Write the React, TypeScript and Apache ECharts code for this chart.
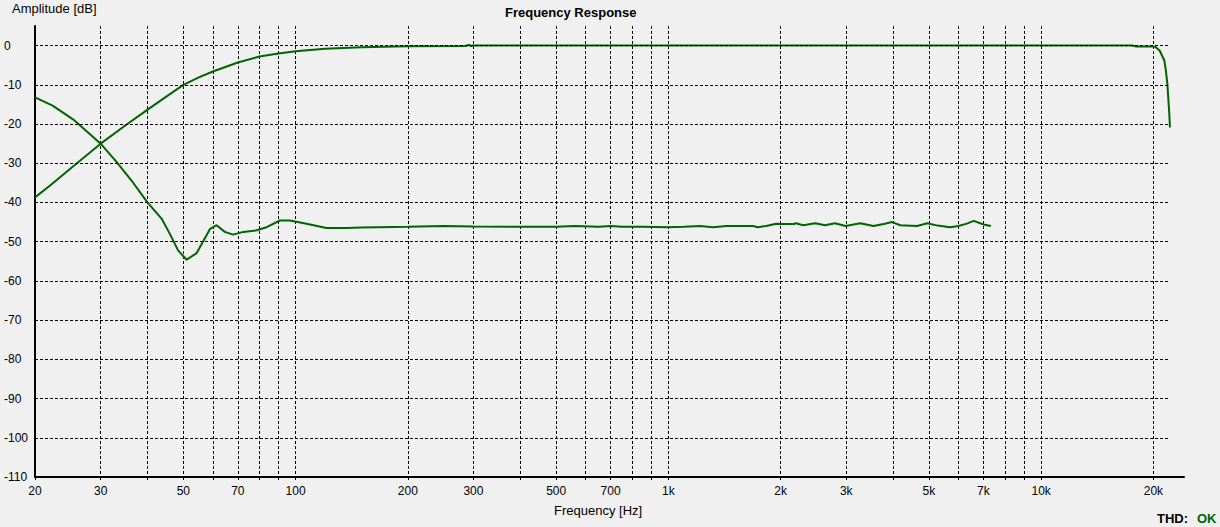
import React, { useEffect, useRef } from "react";
import * as echarts from "echarts";

// Grid / tick definitions (Hz and dB)
const gridFreqs = [20, 30, 40, 50, 60, 70, 80, 90, 100, 200, 300, 400, 500, 600, 700, 800, 900, 1000, 2000, 3000, 4000, 5000, 6000, 7000, 8000, 9000, 10000, 20000];
const labelFreqs = [20, 30, 50, 70, 100, 200, 300, 500, 700, 1000, 2000, 3000, 5000, 7000, 10000, 20000];
const dbTicks = [-110, -100, -90, -80, -70, -60, -50, -40, -30, -20, -10, 0];

// Amplitude response (green curve rising to 0 dB)
const respFreq = [20, 22, 25, 30, 35, 40, 45, 50, 55, 60, 70, 80, 90, 100, 120, 150, 200, 285, 292, 296, 300, 1000, 5000, 10000, 17500, 18000, 20000, 20300, 20800, 21400, 21600, 21800, 21900, 22060, 22150];
const respDb = [-38.7, -35.6, -31.2, -25.0, -20.3, -16.4, -13.0, -10.0, -8.1, -6.6, -4.3, -2.8, -2.0, -1.45, -0.8, -0.4, -0.15, -0.1, 0.15, -0.1, 0, 0, 0, 0, 0, -0.2, -0.2, -0.4, -1.3, -3.8, -6.4, -9.7, -12.7, -17.3, -20.9];

// THD curve
const thdFreq = [20, 22.3, 25.3, 28, 30, 33, 36.3, 40, 43.7, 46, 48.4, 51, 54.3, 59, 61.4, 64.6, 68, 72.4, 78.6, 83.6, 90.8, 96.6, 107, 121, 137, 150, 200, 250, 300, 400, 500, 560, 650, 700, 750, 850, 1000, 1100, 1216, 1316, 1432, 1686, 1738, 1830, 1946, 2000, 2166, 2200, 2298, 2478, 2632, 2796, 2990, 3270, 3550, 3810, 3976, 4190, 4646, 4948, 5274, 5698, 6000, 6320, 6590, 7010, 7330];
const thdDb = [-13.2, -15.3, -18.8, -22.5, -25.0, -29.5, -34.4, -39.9, -44.1, -48.0, -52.2, -54.6, -52.9, -46.7, -45.8, -47.5, -48.2, -47.5, -47.1, -46.3, -44.6, -44.6, -45.4, -46.5, -46.5, -46.4, -46.2, -46.0, -46.1, -46.2, -46.2, -46.0, -46.2, -46.0, -46.2, -46.2, -46.3, -46.2, -46.0, -46.3, -46.0, -46.0, -46.3, -46.0, -45.4, -45.5, -45.5, -45.3, -45.8, -45.3, -45.8, -45.3, -46.0, -45.3, -46.0, -45.4, -45.0, -45.8, -46.0, -45.3, -45.9, -46.3, -46.0, -45.4, -44.7, -45.6, -46.0];

const X_MIN_HZ = 20;
const X_MAX_HZ = 24160;
const GRID_END_HZ = 22150;
const Y_MIN = -110;
const Y_MAX = 5;

const lg = (f: number) => Math.log10(f);
const fmtHz = (v: number) => {
  const f = Math.round(Math.pow(10, v));
  return f >= 1000 ? f / 1000 + "k" : String(f);
};

const FONT = "Liberation Sans, Arial, sans-serif";
const GREEN = "#006400";
const DASH = [3, 2];

export default function App() {
  const ref = useRef<HTMLDivElement>(null);
  useEffect(() => {
    if (!ref.current) return;
    const chart = echarts.init(ref.current, undefined, { renderer: "svg" });
    const option: any = {
      animation: false,
      backgroundColor: "#f0f0f0",
      title: {
        text: "Frequency Response",
        left: 505,
        top: 6,
        padding: 0,
        textStyle: { fontFamily: FONT, fontSize: 13, fontWeight: "bold", color: "#000" },
      },
      grid: { left: 35, right: 36, top: 26, bottom: 50, containLabel: false },
      xAxis: {
        type: "value",
        min: lg(X_MIN_HZ),
        max: lg(X_MAX_HZ),
        axisLine: { show: true, onZero: false, lineStyle: { color: "#000", width: 2 } },
        axisTick: {
          show: true,
          length: 5,
          customValues: gridFreqs.map(lg),
          lineStyle: { color: "#000", width: 1, type: DASH },
        },
        axisLabel: {
          customValues: labelFreqs.map(lg),
          formatter: (v: number) => fmtHz(v),
          color: "#000",
          fontFamily: FONT,
          fontSize: 12,
          margin: 8,
          showMinLabel: true,
          showMaxLabel: true,
          hideOverlap: false,
        },
        splitLine: { show: true, lineStyle: { color: "#000", width: 1, type: DASH } },
      },
      yAxis: {
        type: "value",
        min: Y_MIN,
        max: Y_MAX,
        axisLine: { show: true, lineStyle: { color: "#000", width: 2 } },
        axisTick: { show: false, customValues: dbTicks },
        axisLabel: {
          customValues: dbTicks,
          color: "#000",
          fontFamily: FONT,
          fontSize: 12,
          align: "left",
          margin: 31,
          showMinLabel: true,
          showMaxLabel: true,
        },
        splitLine: { show: false },
      },
      graphic: [
        {
          type: "text",
          left: 12,
          top: 2,
          style: { text: "Amplitude [dB]", font: `13px ${FONT}`, fill: "#000" },
        },
        {
          type: "text",
          left: 554,
          top: 504,
          style: { text: "Frequency [Hz]", font: `13px ${FONT}`, fill: "#000" },
        },
        {
          type: "text",
          left: 1157,
          top: 512,
          style: { text: "THD:", font: `bold 13px ${FONT}`, fill: "#000" },
        },
        {
          type: "text",
          left: 1197,
          top: 512,
          style: { text: "OK", font: `bold 13px ${FONT}`, fill: GREEN },
        },
      ],
      series: [
        {
          name: "grid",
          type: "line",
          data: [],
          z: 1,
          silent: true,
          markLine: {
            silent: true,
            symbol: ["none", "none"],
            label: { show: false },
            emphasis: { disabled: true },
            lineStyle: { color: "#000", width: 1, type: DASH },
            data: dbTicks
              .filter((v) => v > Y_MIN)
              .map((v) => [
                { coord: [lg(X_MIN_HZ), v] },
                { coord: [lg(GRID_END_HZ), v] },
              ]),
          },
        },
        {
          name: "Amplitude",
          type: "line",
          z: 3,
          symbol: "none",
          lineStyle: { color: GREEN, width: 2 },
          itemStyle: { color: GREEN },
          data: respFreq.map((f, i) => [lg(f), respDb[i]]),
        },
        {
          name: "THD",
          type: "line",
          z: 3,
          symbol: "none",
          lineStyle: { color: GREEN, width: 2 },
          itemStyle: { color: GREEN },
          data: thdFreq.map((f, i) => [lg(f), thdDb[i]]),
        },
      ],
    };
    chart.setOption(option);
    return () => chart.dispose();
  }, []);
  return (
    <div
      ref={ref}
      style={{ position: "absolute", left: 0, top: 0, width: 1220, height: 527 }}
    />
  );
}
